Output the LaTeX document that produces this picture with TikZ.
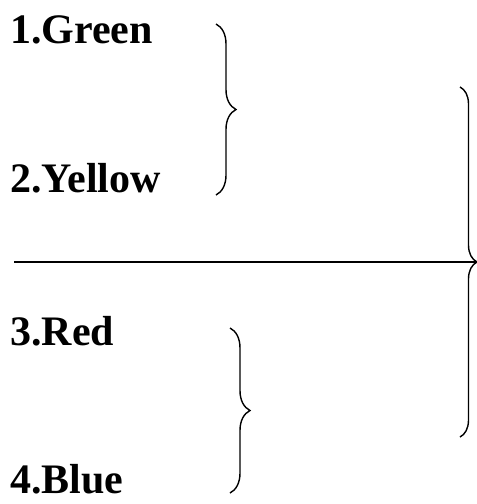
\documentclass[tikz,border=0pt]{standalone}
\usepackage{fontspec}
\setmainfont{Liberation Serif}
\usetikzlibrary{decorations.pathreplacing}

\tikzset{colour/.style={anchor=base west,inner sep=0pt,text depth=0pt,font=\fontsize{42}{50}\selectfont\bfseries},
  curly/.style={decorate,decoration={brace,amplitude=#1},line width=1.4pt}}

\begin{document}
\begin{tikzpicture}[x=1pt,y=-1pt]
\useasboundingbox (0,0) rectangle (477,504);
  \node[colour] (green) at (10,43) {1.Green};
  \node[colour] (yellow) at (10,192) {2.Yellow};
  \node[colour] (red) at (10,345) {3.Red};
  \node[colour] (blue) at (10,493) {4.Blue};
  % first pair
  \coordinate (gy1) at (216,24);
  \coordinate (gy2) at (216,195);
  \draw[curly=20pt] (gy1) -- (gy2);
  % second pair
  \coordinate (rb1) at (230,328);
  \coordinate (rb2) at (230,493);
  \draw[curly=20pt] (rb1) -- (rb2);
  % big one
  \coordinate (all1) at (460,87);
  \coordinate (all2) at (460,437);
  \draw[curly=17pt] (all1) -- (all2);
  \coordinate (start) at (14,262);
  \coordinate (tip) at (477,262);
  \draw[line width=1.6pt] (start) -- (tip);
\end{tikzpicture}
\end{document}
